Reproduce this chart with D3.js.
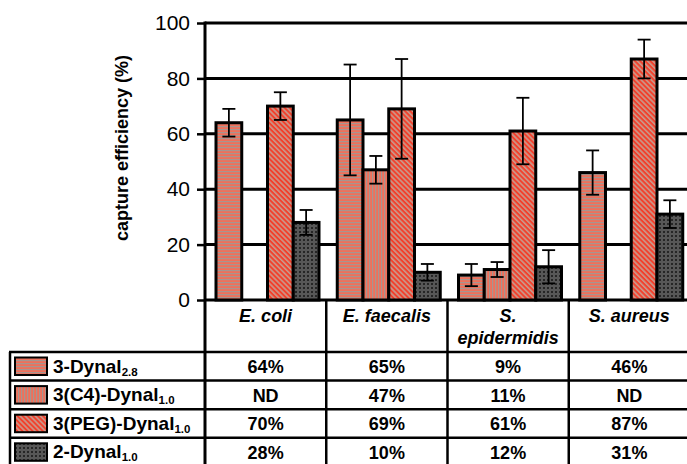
<!DOCTYPE html>
<html>
<head>
<meta charset="utf-8">
<script src="https://cdn.jsdelivr.net/npm/d3@7"></script>
<style>
body { margin: 0; background: #fff; }
text { font-family: "Liberation Sans", Arial, sans-serif; }
</style>
</head>
<body>
<svg width="687" height="464"></svg>
<script>
// data
var species = ['E. coli', 'E. faecalis', 'S. epidermidis', 'S. aureus'];
var speciesLines = [['E. coli'], ['E. faecalis'], ['S.', 'epidermidis'], ['S. aureus']];
var seriesNames = ['3-Dynal', '3(C4)-Dynal', '3(PEG)-Dynal', '2-Dynal'];
var seriesSubs = ['2.8', '1.0', '1.0', '1.0'];
// one array per series, in species order (null = ND)
var dynal28 = [64, 65, 9, 46];
var c4Dynal = [null, 47, 11, null];
var pegDynal = [70, 69, 61, 87];
var dynal2 = [28, 10, 12, 31];
var dynal28Err = [5, 20, 4, 8];
var c4DynalErr = [null, 5, 2.7, null];
var pegDynalErr = [5, 18, 12, 7];
var dynal2Err = [4.5, 3, 6, 5];
var yTicks = [0, 20, 40, 60, 80, 100];

var values = [dynal28, c4Dynal, pegDynal, dynal2];
var errors = [dynal28Err, c4DynalErr, pegDynalErr, dynal2Err];

var svg = d3.select('svg');

// patterns for the four series
var defs = svg.append('defs');
var p0 = defs.append('pattern').attr('id', 'pat0').attr('patternUnits', 'userSpaceOnUse')
    .attr('width', 4).attr('height', 3);
p0.append('rect').attr('width', 4).attr('height', 3).attr('fill', '#f0705a');
p0.append('rect').attr('width', 4).attr('height', 1.2).attr('fill', '#a8958f');

var p1 = defs.append('pattern').attr('id', 'pat1').attr('patternUnits', 'userSpaceOnUse')
    .attr('width', 3).attr('height', 4);
p1.append('rect').attr('width', 3).attr('height', 4).attr('fill', '#f0705a');
p1.append('rect').attr('width', 1.2).attr('height', 4).attr('fill', '#a8958f');

var p2 = defs.append('pattern').attr('id', 'pat2').attr('patternUnits', 'userSpaceOnUse')
    .attr('width', 3.6).attr('height', 6).attr('patternTransform', 'rotate(-45)');
p2.append('rect').attr('width', 3.6).attr('height', 6).attr('fill', '#f2402c');
p2.append('rect').attr('width', 1.6).attr('height', 6).attr('fill', '#c99a8c');

var p3 = defs.append('pattern').attr('id', 'pat3').attr('patternUnits', 'userSpaceOnUse')
    .attr('width', 4).attr('height', 4);
p3.append('rect').attr('width', 4).attr('height', 4).attr('fill', '#262626');
p3.append('circle').attr('cx', 2).attr('cy', 2).attr('r', 1.3)
    .attr('fill', 'none').attr('stroke', '#8a8a8a').attr('stroke-width', 0.8);

var axisX = 205, rightX = 690;
var yScale = d3.scaleLinear().domain([0, 100]).range([300, 23]);
var x0 = d3.scaleBand().domain(species).range([axisX, rightX]);
var x1 = d3.scaleBand().domain(d3.range(4)).range([11, 114]);

// gridlines
svg.append('g').selectAll('line').data(yTicks).enter().append('line')
    .attr('x1', axisX).attr('x2', 687)
    .attr('y1', function(d) { return yScale(d); })
    .attr('y2', function(d) { return yScale(d); })
    .attr('stroke', '#000').attr('stroke-width', 3);

// bars
var barG = svg.append('g');
species.forEach(function(sp, j) {
    values.forEach(function(ser, i) {
        var v = ser[j];
        if (v == null) return;
        var x = x0(sp) + x1(i);
        barG.append('rect')
            .attr('x', x).attr('y', yScale(v))
            .attr('width', x1.bandwidth()).attr('height', yScale(0) - yScale(v))
            .attr('fill', 'url(#pat' + i + ')')
            .attr('stroke', '#000').attr('stroke-width', 3);
        var e = errors[i][j];
        var cx = x + x1.bandwidth() / 2;
        barG.append('line').attr('x1', cx).attr('x2', cx)
            .attr('y1', yScale(v + e)).attr('y2', yScale(v - e))
            .attr('stroke', '#000').attr('stroke-width', 1.8);
        [v + e, v - e].forEach(function(t) {
            barG.append('line').attr('x1', cx - 6.5).attr('x2', cx + 6.5)
                .attr('y1', yScale(t)).attr('y2', yScale(t))
                .attr('stroke', '#000').attr('stroke-width', 1.8);
        });
    });
});

// y axis
var yAx = svg.append('g').attr('transform', 'translate(' + axisX + ',0)')
    .call(d3.axisLeft(yScale).tickValues(yTicks).tickSize(8).tickPadding(7));
yAx.select('.domain').remove();
yAx.selectAll('.tick line').attr('stroke', '#000').attr('stroke-width', 2.5);
yAx.selectAll('.tick text').attr('font-size', 21).attr('fill', '#000')
    .attr('font-family', '"Liberation Sans", Arial, sans-serif');

svg.append('text')
    .attr('transform', 'translate(128,148) rotate(-90)')
    .attr('text-anchor', 'middle').attr('font-size', 18).attr('font-weight', 'bold')
    .text('capture efficiency (%)');

// table
var rowTop = 352, rowH = 28.6;
var tableG = svg.append('g');
var tableBottom = 470;

// horizontal table lines
d3.range(4).forEach(function(r) {
    var y = rowTop + r * rowH;
    tableG.append('line').attr('x1', 9).attr('x2', 687).attr('y1', y).attr('y2', y)
        .attr('stroke', '#000').attr('stroke-width', 2.5);
});
// vertical table lines
tableG.append('line').attr('x1', 10).attr('x2', 10).attr('y1', rowTop).attr('y2', tableBottom)
    .attr('stroke', '#000').attr('stroke-width', 2.5);
species.slice(1).forEach(function(sp) {
    tableG.append('line').attr('x1', x0(sp)).attr('x2', x0(sp)).attr('y1', 300).attr('y2', tableBottom)
        .attr('stroke', '#000').attr('stroke-width', 2.5);
});
// axis line running down through the table
svg.append('line').attr('x1', axisX).attr('x2', axisX).attr('y1', yScale(100) - 1.5).attr('y2', tableBottom)
    .attr('stroke', '#000').attr('stroke-width', 3);

// column headers
species.forEach(function(sp, j) {
    var t = tableG.append('text')
        .attr('x', x0(sp) + x0.bandwidth() / 2).attr('y', 322)
        .attr('text-anchor', 'middle').attr('font-size', 18)
        .attr('font-weight', 'bold').attr('font-style', 'italic');
    speciesLines[j].forEach(function(line, k) {
        t.append('tspan').attr('x', x0(sp) + x0.bandwidth() / 2)
            .attr('dy', k === 0 ? 0 : 22).text(line);
    });
});

// rows
values.forEach(function(ser, i) {
    var top = rowTop + i * rowH;
    tableG.append('rect').attr('x', 15).attr('y', top + 5.5)
        .attr('width', 32).attr('height', 17.5)
        .attr('fill', 'url(#pat' + i + ')')
        .attr('stroke', '#000').attr('stroke-width', 2);
    var lab = tableG.append('text').attr('x', 53).attr('y', top + 20.5)
        .attr('font-size', 19).attr('font-weight', 'bold');
    lab.append('tspan').text(seriesNames[i]);
    lab.append('tspan').attr('font-size', 11.5).attr('dy', 3).text(seriesSubs[i]);
    ser.forEach(function(v, j) {
        tableG.append('text')
            .attr('x', x0(species[j]) + x0.bandwidth() / 2).attr('y', top + 21)
            .attr('text-anchor', 'middle').attr('font-size', 18).attr('font-weight', 'bold')
            .text(v == null ? 'ND' : v + '%');
    });
});
</script>
</body>
</html>
